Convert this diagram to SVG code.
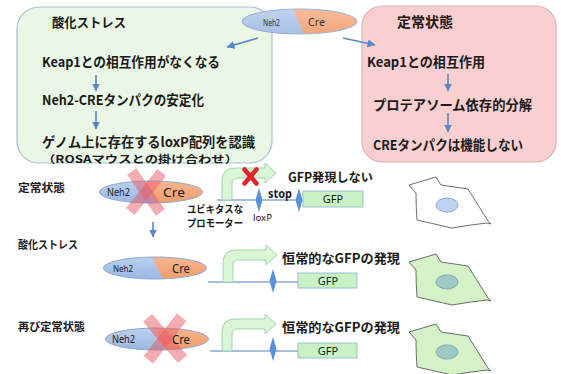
<svg xmlns="http://www.w3.org/2000/svg" width="561" height="374" viewBox="0 0 561 374">
  <style>
    .jp { font-family: "Noto Sans CJK JP", "Noto Sans", sans-serif; fill: #1a1a1a; }
    .b { font-weight: bold; }
    .lat { font-family: "Noto Sans", "Liberation Sans", sans-serif; fill: #1a1a1a; }
    .flow { stroke: #5b86c6; stroke-width: 1.6; fill: none; marker-end: url(#ah); }
    .dna { stroke: #8aa8d2; stroke-width: 1.3; fill: none; }
    .gfp { fill: #c9f2c4; stroke: #9cbfd8; stroke-width: 1; }
    .prom { fill: #d9f6d5; stroke: #a3d5ac; stroke-width: 1; }
    .lox { fill: #5a8fda; }
    .cross { fill: #e85a66; opacity: 0.5; }
    .pring { fill: none; stroke: #8eaad6; stroke-width: 1; }
    .cellw { fill: #ffffff; stroke: #5e5e5e; stroke-width: 0.9; }
    .cellg { fill: #d4f1c8; stroke: #5e5e5e; stroke-width: 0.9; }
    .nucw { fill: #bcd2ee; stroke: #8ea9cf; stroke-width: 1; }
    .nucg { fill: #9fc9c4; stroke: #7fa9b5; stroke-width: 1; }
  </style>
  <defs>
    <marker id="ah" markerUnits="userSpaceOnUse" markerWidth="9" markerHeight="8" refX="7.5" refY="4" orient="auto">
      <path d="M0,0 L8,4 L0,8 Z" fill="#5b86c6"/>
    </marker>
    <linearGradient id="gBlue" x1="0" y1="0" x2="0" y2="1">
      <stop offset="0" stop-color="#c0d4ef"/>
      <stop offset="1" stop-color="#95b4e0"/>
    </linearGradient>
    <linearGradient id="gOrange" x1="0" y1="0" x2="0" y2="1">
      <stop offset="0" stop-color="#f8b993"/>
      <stop offset="1" stop-color="#f19866"/>
    </linearGradient>
    <clipPath id="clipTop">
      <ellipse cx="299.5" cy="21.5" rx="57.5" ry="12.5"/>
    </clipPath>
    <clipPath id="clipMid">
      <ellipse cx="0" cy="0" rx="51.5" ry="11"/>
    </clipPath>
    <path id="promoter" d="M222,200 L222,181 Q222,168 235,168 L265,168 L265,163 L276,173 L265,183 L265,178 L238,178 Q232,178 232,184 L232,200 Z"/>
    <path id="loxp" d="M0,-12 L3.5,0 L0,12 L-3.5,0 Z"/>
    <path id="cell" d="M-38,-20 L-11,-28 L-6,-20 L21,-16 Q31,0 41,16 L44,19 L40,18 Q22,20 5,23 L-30,15 Q-31,2 -31,-12 Z"/>
  </defs>

  <!-- oxidative stress pathway box -->
  <g id="box-oxidative">
    <rect x="17" y="7" width="255" height="156" rx="22" fill="#ebf7e5" stroke="#a6c2d6" stroke-width="1.2"/>
    <text class="jp b" x="52" y="27" font-size="13" textLength="74" lengthAdjust="spacingAndGlyphs">酸化ストレス</text>
    <text class="jp b" x="42" y="67" font-size="13.5" textLength="178" lengthAdjust="spacingAndGlyphs">Keap1との相互作用がなくなる</text>
    <text class="jp b" x="42" y="105" font-size="13.5" textLength="162" lengthAdjust="spacingAndGlyphs">Neh2-CREタンパクの安定化</text>
    <text class="jp b" x="42" y="146.5" font-size="13.5" textLength="213" lengthAdjust="spacingAndGlyphs">ゲノム上に存在するloxP配列を認識</text>
    <text class="jp b" x="42" y="162.8" font-size="10.5" textLength="196" lengthAdjust="spacingAndGlyphs">（ROSAマウスとの掛け合わせ）</text>
  </g>

  <!-- steady state pathway box -->
  <g id="box-steady">
    <rect x="362" y="6" width="194" height="156" rx="20" fill="#f9cfcf" stroke="#dcb4b6" stroke-width="1.2"/>
    <text class="jp b" x="397" y="27" font-size="14" textLength="56" lengthAdjust="spacingAndGlyphs">定常状態</text>
    <text class="jp b" x="367" y="67" font-size="13.5" textLength="118" lengthAdjust="spacingAndGlyphs">Keap1との相互作用</text>
    <text class="jp b" x="373" y="110" font-size="13.5" textLength="159" lengthAdjust="spacingAndGlyphs">プロテアソーム依存的分解</text>
    <text class="jp b" x="373" y="150" font-size="13.5" textLength="150" lengthAdjust="spacingAndGlyphs">CREタンパクは機能しない</text>
  </g>

  <!-- Neh2-Cre fusion protein -->
  <g id="protein-top" opacity="0.9">
    <g clip-path="url(#clipTop)">
      <rect x="240" y="5" width="120" height="35" fill="url(#gOrange)"/>
      <polygon points="240,5 291.2,5 306.6,40 240,40" fill="url(#gBlue)"/>
    </g>
    <ellipse class="pring" cx="299.5" cy="21.5" rx="57.5" ry="12.5"/>
    <text class="lat" x="263" y="25.5" font-size="9" textLength="17" lengthAdjust="spacingAndGlyphs">Neh2</text>
    <text class="lat" x="308" y="26" font-size="11.5" textLength="17" lengthAdjust="spacingAndGlyphs">Cre</text>
  </g>

  <!-- row labels -->
  <g id="row-labels">
    <text class="jp b" x="18" y="192" font-size="11" textLength="47" lengthAdjust="spacingAndGlyphs">定常状態</text>
    <text class="jp b" x="18" y="249" font-size="11" textLength="60" lengthAdjust="spacingAndGlyphs">酸化ストレス</text>
    <text class="jp b" x="18" y="331" font-size="11" textLength="67" lengthAdjust="spacingAndGlyphs">再び定常状態</text>
  </g>

  <!-- protein, row 1 (degraded) -->
  <g id="protein-row1" transform="translate(151,192)">
    <g clip-path="url(#clipMid)">
      <rect x="-55" y="-14" width="110" height="28" fill="url(#gOrange)"/>
      <polygon points="-55,-14 -9.9,-14 7.9,14 -55,14" fill="url(#gBlue)"/>
    </g>
    <ellipse class="pring" cx="0" cy="0" rx="51.5" ry="11"/>
    <text class="lat" x="-44" y="3.5" font-size="10" textLength="23" lengthAdjust="spacingAndGlyphs">Neh2</text>
    <text class="lat" x="12" y="5" font-size="13" textLength="22" lengthAdjust="spacingAndGlyphs">Cre</text>
    <g transform="translate(-5,0)">
      <rect class="cross" x="-25" y="-5.5" width="50" height="11" transform="rotate(55)"/>
      <rect class="cross" x="-25" y="-5.5" width="50" height="11" transform="rotate(129)"/>
    </g>
  </g>

  <!-- protein, row 2 (stabilised) -->
  <g id="protein-row2" transform="translate(155,268)">
    <g clip-path="url(#clipMid)">
      <rect x="-55" y="-14" width="110" height="28" fill="url(#gOrange)"/>
      <polygon points="-55,-14 -4.5,-14 9.5,14 -55,14" fill="url(#gBlue)"/>
    </g>
    <ellipse class="pring" cx="0" cy="0" rx="51.5" ry="11"/>
    <text class="lat" x="-42" y="3.5" font-size="9.5" textLength="20" lengthAdjust="spacingAndGlyphs">Neh2</text>
    <text class="lat" x="17" y="4.5" font-size="12" textLength="18" lengthAdjust="spacingAndGlyphs">Cre</text>
  </g>

  <!-- protein, row 3 (degraded again) -->
  <g id="protein-row3" transform="translate(157,339)">
    <g clip-path="url(#clipMid)">
      <rect x="-55" y="-14" width="110" height="28" fill="url(#gOrange)"/>
      <polygon points="-55,-14 -4.5,-14 9.5,14 -55,14" fill="url(#gBlue)"/>
    </g>
    <ellipse class="pring" cx="0" cy="0" rx="51.5" ry="11"/>
    <g transform="translate(8,-0.5)">
      <rect class="cross" x="-27" y="-6" width="54" height="12" transform="rotate(50)"/>
      <rect class="cross" x="-27" y="-6" width="54" height="12" transform="rotate(128)"/>
    </g>
    <text class="lat" x="-45" y="3.5" font-size="10" textLength="23" lengthAdjust="spacingAndGlyphs">Neh2</text>
    <text class="lat" x="15" y="4.5" font-size="12" textLength="18" lengthAdjust="spacingAndGlyphs">Cre</text>
  </g>

  <!-- reporter construct, row 1 (stop cassette present) -->
  <g id="construct-row1">
    <line class="dna" x1="217" y1="200" x2="303" y2="200"/>
    <use href="#promoter" class="prom"/>
    <line x1="244.5" y1="169.5" x2="256.5" y2="183.5" stroke="#e3222b" stroke-width="4.5" stroke-linecap="round"/>
    <line x1="256.5" y1="169.5" x2="244.5" y2="183.5" stroke="#e3222b" stroke-width="4.5" stroke-linecap="round"/>
    <use href="#loxp" class="lox" x="259" y="200"/>
    <use href="#loxp" class="lox" x="299" y="200"/>
    <text class="lat b" x="268" y="198" font-size="12" textLength="24" lengthAdjust="spacingAndGlyphs">stop</text>
    <text class="lat" x="253" y="220.5" font-size="9" textLength="19" lengthAdjust="spacingAndGlyphs">loxP</text>
    <rect class="gfp" x="303" y="191" width="60" height="16"/>
    <text class="lat" x="333" y="203" font-size="11" text-anchor="middle">GFP</text>
    <text class="jp b" x="187" y="213" font-size="10" textLength="56" lengthAdjust="spacingAndGlyphs">ユビキタスな</text>
    <text class="jp b" x="187" y="227" font-size="10" textLength="56" lengthAdjust="spacingAndGlyphs">プロモーター</text>
    <text class="jp b" x="288" y="182" font-size="12.5" textLength="85" lengthAdjust="spacingAndGlyphs">GFP発現しない</text>
  </g>

  <!-- reporter construct, row 2 (stop cassette excised) -->
  <g id="construct-row2">
    <line class="dna" x1="208" y1="282" x2="298" y2="282"/>
    <use href="#promoter" class="prom" transform="translate(1,82)"/>
    <use href="#loxp" class="lox" x="273" y="281"/>
    <rect class="gfp" x="298" y="273" width="59" height="15"/>
    <text class="lat" x="328" y="284.5" font-size="11" text-anchor="middle">GFP</text>
    <text class="jp b" x="282" y="263" font-size="13" textLength="118" lengthAdjust="spacingAndGlyphs">恒常的なGFPの発現</text>
  </g>

  <!-- reporter construct, row 3 -->
  <g id="construct-row3">
    <line class="dna" x1="210" y1="351" x2="298" y2="351"/>
    <use href="#promoter" class="prom" transform="translate(0,151)"/>
    <use href="#loxp" class="lox" x="273" y="349"/>
    <rect class="gfp" x="298" y="343" width="59" height="15"/>
    <text class="lat" x="328" y="354.5" font-size="11" text-anchor="middle">GFP</text>
    <text class="jp b" x="282" y="332" font-size="13" textLength="118" lengthAdjust="spacingAndGlyphs">恒常的なGFPの発現</text>
  </g>

  <!-- cells -->
  <g id="cell-row1" transform="translate(447,205)">
    <use href="#cell" class="cellw"/>
    <ellipse class="nucw" cx="0" cy="0" rx="11" ry="7"/>
  </g>
  <g id="cell-row2" transform="translate(447,282)">
    <use href="#cell" class="cellg"/>
    <ellipse class="nucg" cx="0" cy="0" rx="11" ry="7"/>
  </g>
  <g id="cell-row3" transform="translate(447,352)">
    <use href="#cell" class="cellg"/>
    <ellipse class="nucg" cx="0" cy="0" rx="11" ry="7"/>
  </g>

  <!-- connectors -->
  <g id="connectors">
    <line class="flow" x1="258" y1="38" x2="227" y2="47"/>
    <line class="flow" x1="343" y1="38" x2="375" y2="45"/>
    <line class="flow" x1="96" y1="75" x2="96" y2="91"/>
    <line class="flow" x1="96" y1="111" x2="96" y2="129"/>
    <line class="flow" x1="448" y1="74" x2="448" y2="91"/>
    <line class="flow" x1="448" y1="113" x2="448" y2="132"/>
    <line class="flow" x1="153" y1="222" x2="153" y2="237"/>
  </g>
</svg>
